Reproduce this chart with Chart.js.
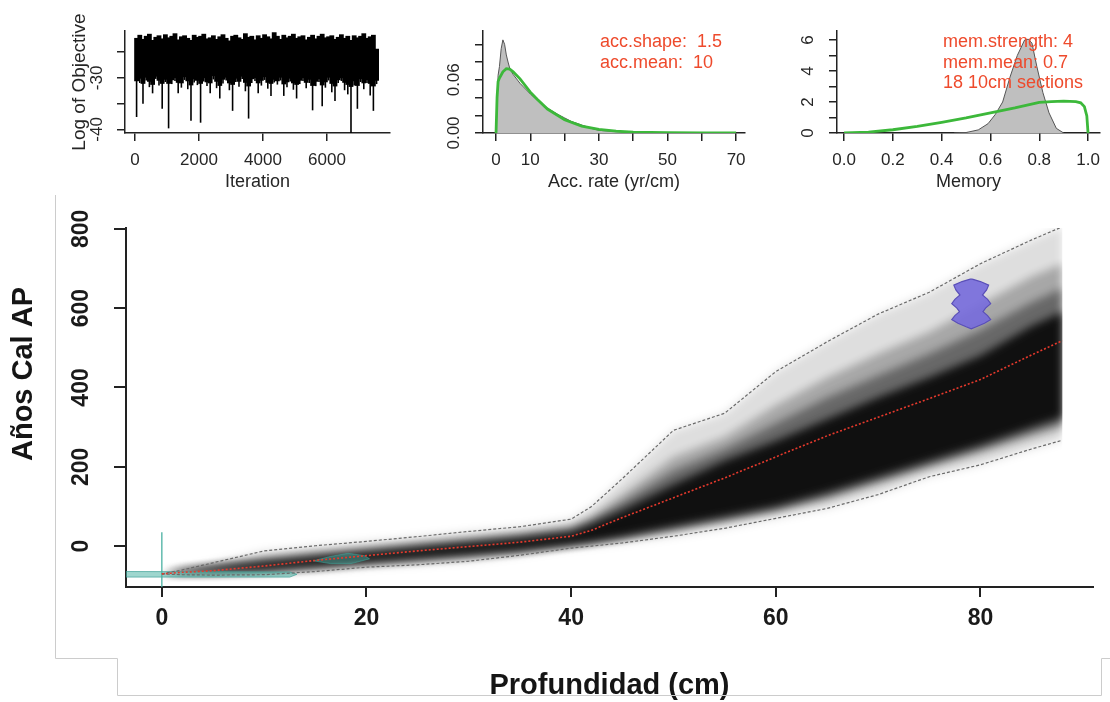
<!DOCTYPE html>
<html><head><meta charset="utf-8">
<script src="https://cdn.jsdelivr.net/npm/chart.js@4.4.1/dist/chart.umd.min.js"></script>
<style>
html,body{margin:0;padding:0;background:#fff;}
body{width:1110px;height:702px;position:relative;overflow:hidden;}
canvas{position:absolute;}
</style></head><body>
<canvas id="main" width="1110" height="702" style="left:0;top:0"></canvas>
<canvas id="p1" width="350" height="200" style="left:50px;top:0"></canvas>
<canvas id="p2" width="360" height="200" style="left:400px;top:0"></canvas>
<canvas id="p3" width="350" height="200" style="left:760px;top:0"></canvas>
<script>
const FONT = "'Liberation Sans', Arial, Helvetica, sans-serif";

// ---------- Panel 1: Log of Objective trace (per 100 iterations) ----------
const objBinStep = 100;
const objHigh = [
-22.4,-21.8,-22.6,-22.0,-21.6,-22.8,-22.2,-21.9,-22.5,-21.7,
-22.3,-22.0,-21.5,-22.7,-22.1,-21.9,-22.4,-22.8,-21.8,-22.2,
-22.0,-21.6,-22.5,-22.3,-21.9,-22.6,-22.1,-21.7,-22.4,-22.9,
-22.0,-21.8,-22.3,-22.6,-21.5,-22.2,-22.0,-22.7,-21.9,-22.4,
-21.7,-22.1,-22.5,-21.3,-22.0,-22.6,-21.8,-22.3,-22.0,-21.6,
-22.4,-22.1,-21.9,-22.7,-22.2,-21.8,-22.5,-22.0,-21.6,-22.3,
-22.1,-21.9,-22.6,-22.2,-21.7,-22.4,-22.0,-22.8,-21.9,-22.3,
-22.0,-21.5,-22.4,-22.1,-21.8,-24.5];
const objBodyLow = [
-30.5,-30.0,-31.0,-29.8,-30.6,-31.2,-29.6,-30.4,-31.0,-30.2,
-31.0,-30.3,-29.9,-30.8,-30.9,-29.7,-30.5,-31.3,-30.1,-30.4,
-31.0,-29.9,-30.7,-30.9,-29.5,-30.6,-31.4,-30.2,-29.8,-30.9,
-31.2,-30.0,-30.6,-29.6,-30.8,-31.5,-30.1,-29.9,-30.9,-30.4,
-29.7,-30.8,-31.0,-30.2,-30.5,-29.8,-31.1,-30.7,-30.0,-30.9,
-31.2,-30.4,-29.9,-30.8,-30.2,-31.4,-30.6,-30.1,-31.3,-30.7,
-29.8,-31.0,-31.5,-30.3,-29.9,-30.8,-31.2,-31.6,-30.5,-31.4,
-30.1,-30.9,-30.3,-31.0,-31.5,-30.4];
const objLow = [
-37.6,-31.0,-35.0,-30.5,-31.8,-33.0,-30.2,-31.5,-36.0,-30.8,
-39.8,-31.2,-30.6,-33.0,-31.9,-30.4,-32.2,-38.3,-30.9,-31.4,
-38.7,-30.7,-31.6,-33.0,-30.3,-32.0,-34.0,-31.1,-30.5,-32.4,
-36.4,-30.8,-31.7,-30.2,-32.6,-37.9,-31.0,-30.6,-33.0,-31.5,
-30.4,-32.1,-33.5,-30.9,-31.3,-30.5,-33.5,-31.8,-30.7,-32.3,
-34.0,-31.2,-30.6,-32.0,-31.0,-36.3,-31.6,-30.8,-35.5,-31.9,
-30.5,-32.8,-34.5,-31.0,-30.6,-32.4,-33.2,-40.7,-31.5,-36.0,
-30.8,-32.2,-31.0,-33.4,-36.4,-31.2];
const objXTicks = [0, 2000, 4000, 6000];
const objYTicks = [-40, -35, -30, -25];
const objYLabels = [-30, -40];

// ---------- Panel 2: accumulation rate ----------
const accPostX = [0,0.3,0.6,1,1.5,2,2.5,3,3.5,4,5,6,7,8,10,12,15,18,20,22,25,28,30,35,40,42];
const accPostY = [0,0.03,0.065,0.075,0.095,0.105,0.1,0.088,0.08,0.073,0.066,0.061,0.056,0.052,0.044,0.037,0.028,0.021,0.017,0.013,0.009,0.005,0.003,0.0015,0.0005,0];
const accPriorX = [0,0.3,0.6,1,2,3,4,5,7,10,12,15,20,25,30,35,40,50,60,70];
const accPriorY = [0,0.04,0.058,0.062,0.069,0.0725,0.072,0.069,0.061,0.046,0.038,0.027,0.015,0.0077,0.004,0.002,0.001,0.0003,0.0001,0];
const accXTicks = [0,10,20,30,40,50,60,70];
const accXLabels = [0,10,30,50,70];
const accYTicks = [0,0.02,0.04,0.06,0.08,0.10];
const accYLabels = [0, 0.06];
const accText = ['acc.shape:  1.5', 'acc.mean:  10'];

// ---------- Panel 3: memory ----------
const memPostX = [0.45,0.5,0.55,0.59,0.62,0.65,0.68,0.71,0.74,0.755,0.77,0.79,0.815,0.84,0.87,0.9];
const memPostY = [0,0.03,0.2,0.6,1.2,2.0,3.6,5.0,6.0,6.05,5.8,4.3,2.6,1.3,0.3,0];
const memPriorX = [0,0.1,0.2,0.3,0.4,0.5,0.6,0.7,0.8,0.85,0.9,0.95,0.97,0.985,0.995,1.0];
const memPriorY = [0,0.06,0.21,0.42,0.68,0.97,1.3,1.62,1.98,2.03,2.05,2.03,1.95,1.7,1.1,0];
const memXTicks = [0,0.2,0.4,0.6,0.8,1.0];
const memYTicks = [0,1,2,3,4,5,6];
const memYLabels = [0,2,4,6];
const memText = ['mem.strength: 4', 'mem.mean: 0.7', '18 10cm sections'];

// ---------- Main age-depth model ----------
const depths   = [0,2,5,10,15,20,25,30,35,40,42,45,50,55,60,65,70,75,80,85,88];
const upper95  = [-70,-60,-42,-12,1,12,24,37,49,68,100,170,292,335,440,515,585,640,712,772,805];
const lower95  = [-70,-72,-73,-72,-64,-53,-47,-38,-23,-5,0,8,25,45,70,95,130,175,205,245,267];
const meanAge  = [-70,-66,-62,-50,-36,-24,-12,-1,10,25,40,72,122,172,225,278,325,372,420,482,518];
const midLow   = [-70,-70,-70,-66,-58,-48,-40,-30,-17,-1,5,16,37,60,85,115,155,195,232,272,295];
const midHigh  = [-70,-58,-48,-28,-15,-3,9,21,33,50,75,130,225,275,355,425,485,540,610,680,712];
const innerLow = [-70,-69,-68,-63,-54,-44,-35,-25,-14,2,9,21,44,68,93,125,165,205,244,286,310];
const innerHigh= [-70,-59,-50,-34,-21,-9,3,15,27,43,65,110,190,245,310,375,430,485,545,615,650];
const coreLow  = [-70,-68,-66,-60,-50,-40,-30,-20,-10,5,12,25,50,75,100,135,175,215,255,300,325];
const coreHigh = [-70,-60,-53,-40,-28,-16,-4,8,20,35,55,90,155,215,265,320,375,425,480,555,590];

const date1LineDepths = [0, 0];
const date1LineAges   = [-103, 35];
const surfaceDateDepths = [-3.5, 12.5, 13.2, 12.5, -3.5];
const surfaceDateAges   = [-64, -65, -71, -78, -78];
const date2Depths = [14.8, 16.5, 18.2, 19.8, 20.3, 18.5, 16.5];
const date2Ages   = [-37, -26, -18, -24, -32, -44, -44];
const date3Depth = 79.1;
const date3Ages       = [673,667,658,646,633,622,611,600,591,581,571,562,553,548];
const date3HalfWidths = [0.1,0.9,1.7,1.5,1.1,1.6,1.9,1.4,1.15,1.6,1.9,1.3,0.5,0.0];

const mainXTicks = [0,20,40,60,80];
const mainYTicks = [0,200,400,600,800];

// ---------- helpers ----------
const pts = (xs, ys) => xs.map((x, i) => ({x, y: ys[i]}));
const closed = a => a.concat([a[0]]);
const base = {responsive:false, animation:false, events:[],
  plugins:{legend:{display:false}, tooltip:{enabled:false}}};

function mkScale(o) {
  const s = {
    type:'linear', min:o.min, max:o.max, offset:false,
    afterFit: sc => { if (o.isY) sc.width = o.fit; else sc.height = o.fit; },
    afterBuildTicks: sc => { sc.ticks = o.tickVals.map(v => ({value:v})); },
    ticks: {
      autoSkip:false, padding:o.pad,
      color:o.color || '#262626',
      font:{size:o.fs, weight:o.bold ? 'bold' : 'normal', family:FONT},
      minRotation:o.isY ? 90 : 0, maxRotation:o.isY ? 90 : 0,
      callback:o.cb || (v => String(v))
    },
    grid:{display:true, offset:false, drawOnChartArea:false, drawTicks:true, tickLength:o.tl,
      tickWidth:o.lw, tickColor:'#222', color:'#222', lineWidth:o.lw},
    border:{display:true, color:'#222', width:o.lw},
    title:{display:false}
  };
  if (o.isY) s.ticks.crossAlign = 'center';
  if (o.title) s.title = {display:true, text:o.title, color:o.titleColor || '#262626',
    font:{size:o.tfs, weight:o.bold ? 'bold' : 'normal', family:FONT, lineHeight:1},
    padding:o.tpad};
  return s;
}

// ---------- main chart ----------
const bandColor = a => `rgba(0,0,0,${a})`;
function band(lo, hi, alpha) {
  return [
    {data:pts(depths, lo), borderWidth:0, borderColor:'transparent', pointRadius:0, fill:false, order:10},
    {data:pts(depths, hi), borderWidth:0, borderColor:'transparent', pointRadius:0, fill:'-1', backgroundColor:bandColor(alpha), order:10}
  ];
}
const date3Poly = date3Ages.map((a, i) => ({x:date3Depth + date3HalfWidths[i], y:a}))
  .concat(date3Ages.map((a, i) => ({x:date3Depth - date3HalfWidths[i], y:a})).reverse());

const softBands = {
  id:'softBands',
  beforeDatasetsDraw(chart) { chart.ctx.save(); chart.ctx.filter = 'blur(4px)'; },
  afterDatasetDraw(chart, args) { if (args.index === 0) chart.ctx.restore(); }
};

const mainDecor = {
  id:'mainDecor',
  afterDraw(chart) {
    const ctx = chart.ctx;
    ctx.save();
    ctx.strokeStyle = '#cccccc'; ctx.lineWidth = 1;
    ctx.beginPath();
    ctx.moveTo(55.5, 195); ctx.lineTo(55.5, 658.5); ctx.lineTo(117.5, 658.5); ctx.lineTo(117.5, 695.5);
    ctx.lineTo(1101.5, 695.5); ctx.lineTo(1101.5, 658.5); ctx.lineTo(1110, 658.5);
    ctx.stroke();
    ctx.translate(24, 374); ctx.rotate(-Math.PI / 2);
    ctx.font = `bold 29px ${FONT}`; ctx.fillStyle = '#151515';
    ctx.textAlign = 'center'; ctx.textBaseline = 'middle';
    ctx.fillText('Años Cal AP', 0, 0);
    ctx.restore();
  }
};

new Chart(document.getElementById('main'), {
  type:'line',
  data:{datasets:[
    ...band(lower95, upper95, 0.13),
    ...band(midLow, midHigh, 0.25),
    ...band(innerLow, innerHigh, 0.38),
    ...band(coreLow, coreHigh, 0.85),
    {data:pts(depths, upper95), borderColor:'#6a6a6a', borderWidth:1.2, borderDash:[3,2], pointRadius:0, fill:false, order:2},
    {data:pts(depths, lower95), borderColor:'#6a6a6a', borderWidth:1.2, borderDash:[3,2], pointRadius:0, fill:false, order:2},
    {data:pts(depths, meanAge), borderColor:'#e6392c', borderWidth:1.6, borderDash:[2,2], pointRadius:0, fill:false, order:1},
    {data:pts(date1LineDepths, date1LineAges), borderColor:'rgba(70,175,160,0.85)', borderWidth:1.5, pointRadius:0, fill:false, order:3},
    {data:closed(pts(surfaceDateDepths, surfaceDateAges)), borderColor:'rgba(60,160,150,0.7)', borderWidth:1, backgroundColor:'rgba(80,180,165,0.55)', pointRadius:0, fill:'shape', order:3},
    {data:closed(pts(date2Depths, date2Ages)), borderColor:'rgba(60,160,150,0.6)', borderWidth:1, backgroundColor:'rgba(70,170,160,0.45)', pointRadius:0, fill:'shape', order:3},
    {data:closed(date3Poly), borderColor:'#5a4fb8', borderWidth:1.2, backgroundColor:'rgba(118,106,220,0.9)', pointRadius:0, fill:'shape', order:0}
  ]},
  options:{...base,
    layout:{padding:{top:228, right:17, left:0, bottom:0}},
    scales:{
      x: mkScale({min:-3.5, max:91, tickVals:mainXTicks, fit:115, tl:10, lw:2, pad:8, fs:23, bold:true, color:'#1a1a1a',
        title:'Profundidad (cm)', tfs:29, tpad:{top:0, bottom:2}, titleColor:'#151515'}),
      y: mkScale({isY:true, min:-103, max:802, tickVals:mainYTicks, fit:126, tl:12, lw:2, pad:13, fs:23, bold:true, color:'#1a1a1a'})
    }
  },
  plugins:[softBands, mainDecor]
});

// ---------- panel 1 ----------
const binCenters = objHigh.map((_, i) => i * objBinStep + objBinStep / 2);
new Chart(document.getElementById('p1'), {
  type:'bar',
  data:{datasets:[
    {data:binCenters.map((x, i) => ({x, y:[objBodyLow[i], objHigh[i]]})), backgroundColor:'#000', borderWidth:0, barPercentage:1, categoryPercentage:1, grouped:false, inflateAmount:0.8},
    {data:binCenters.map((x, i) => ({x, y:[objLow[i], objBodyLow[i]]})), backgroundColor:'#000', borderWidth:0, barPercentage:0.5, categoryPercentage:1, grouped:false}
  ]},
  options:{...base,
    layout:{padding:{top:31, right:10, left:0, bottom:0}},
    scales:{
      x: mkScale({min:-312, max:7969, tickVals:objXTicks, fit:67, tl:8, lw:1.5, pad:9, fs:17,
        title:'Iteration', tfs:18, tpad:{top:0, bottom:9}}),
      y: mkScale({isY:true, min:-40.7, max:-20.9, tickVals:objYTicks, fit:75, tl:8, lw:1.5, pad:7, fs:17,
        cb:v => objYLabels.includes(v) ? String(v) : '',
        title:'Log of Objective', tfs:19, tpad:{top:20, bottom:0}})
    }
  }
});

function textPlugin(lines, x0, ys) {
  return {id:'annot', afterDraw(chart) {
    const ctx = chart.ctx; ctx.save();
    ctx.font = `18px ${FONT}`; ctx.fillStyle = '#ee4a2c';
    ctx.textAlign = 'left'; ctx.textBaseline = 'middle';
    lines.forEach((t, i) => ctx.fillText(t, x0, ys[i]));
    ctx.restore();
  }};
}

// ---------- panel 2 ----------
new Chart(document.getElementById('p2'), {
  type:'line',
  data:{datasets:[
    {data:pts(accPostX, accPostY), borderColor:'#555', borderWidth:1, backgroundColor:'#bfbfbf', pointRadius:0, fill:'origin', order:2},
    {data:pts(accPriorX, accPriorY), borderColor:'#3cb83a', borderWidth:2.8, pointRadius:0, fill:false, order:1}
  ]},
  options:{...base,
    layout:{padding:{top:31, right:15, left:0, bottom:0}},
    scales:{
      x: mkScale({min:-3.8, max:72.6, tickVals:accXTicks, fit:67, tl:8, lw:1.5, pad:9, fs:17,
        cb:v => accXLabels.includes(v) ? String(v) : '',
        title:'Acc. rate (yr/cm)', tfs:18, tpad:{top:0, bottom:9}}),
      y: mkScale({isY:true, min:0, max:0.115, tickVals:accYTicks, fit:83, tl:8, lw:1.5, pad:4, fs:17,
        cb:v => accYLabels.includes(v) ? v.toFixed(2) : ''})
    }
  },
  plugins:[textPlugin(accText, 200, [42, 63])]
});

// ---------- panel 3 ----------
new Chart(document.getElementById('p3'), {
  type:'line',
  data:{datasets:[
    {data:pts(memPostX, memPostY), borderColor:'#555', borderWidth:1, backgroundColor:'#bfbfbf', pointRadius:0, fill:'origin', order:2},
    {data:pts(memPriorX, memPriorY), borderColor:'#3cb83a', borderWidth:2.8, pointRadius:0, fill:false, order:1}
  ]},
  options:{...base,
    layout:{padding:{top:31, right:10, left:0, bottom:0}},
    scales:{
      x: mkScale({min:-0.029, max:1.049, tickVals:memXTicks, fit:67, tl:8, lw:1.5, pad:9, fs:17,
        cb:v => v.toFixed(1),
        title:'Memory', tfs:18, tpad:{top:0, bottom:9}}),
      y: mkScale({isY:true, min:0, max:6.58, tickVals:memYTicks, fit:77, tl:8, lw:1.5, pad:16, fs:17,
        cb:v => memYLabels.includes(v) ? String(v) : ''})
    }
  },
  plugins:[textPlugin(memText, 183, [42, 63, 83])]
});
</script>
</body></html>
